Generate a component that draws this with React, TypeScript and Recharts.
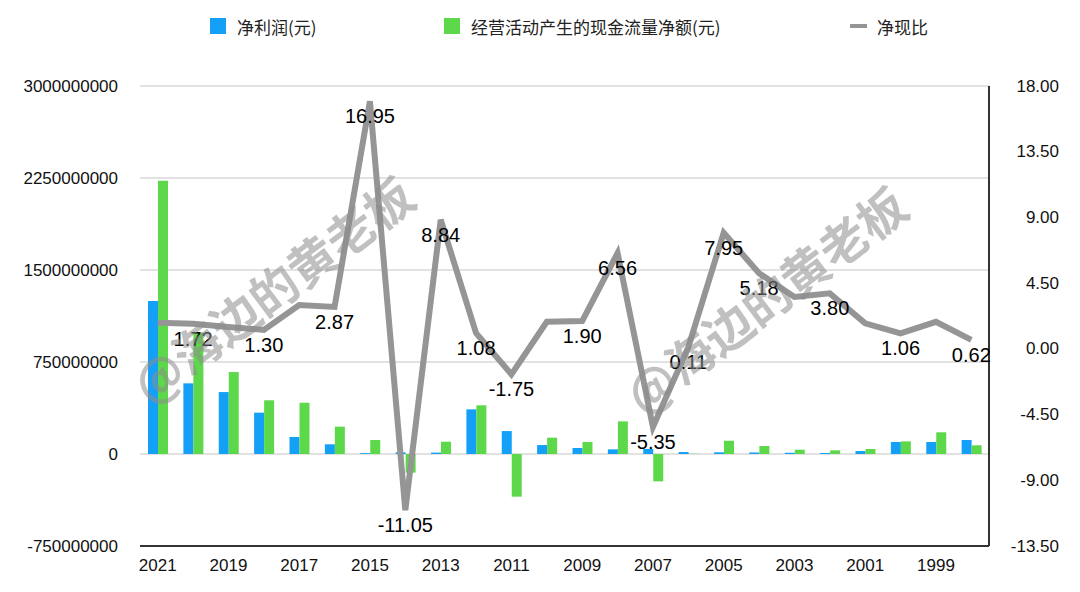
import {
  Bar,
  CartesianGrid,
  ComposedChart,
  LabelList,
  Line,
  XAxis,
  YAxis,
} from "recharts";

const years = [
  "2021", "2020", "2019", "2018", "2017", "2016", "2015", "2014", "2013", "2012", "2011", "2010",
  "2009", "2008", "2007", "2006", "2005", "2004", "2003", "2002", "2001", "2000", "1999", "1998",
];

// 净利润(元)
const netProfit = [
  1247e6, 576e6, 505e6, 337e6, 139e6, 79e6, 6.7e6, 13.8e6, 11.3e6, 364e6, 187e6, 73e6,
  49e6, 38e6, 41e6, 16e6, 13.6e6, 12.5e6, 10e6, 8e6, 24e6, 98e6, 98e6, 114e6,
];

// 经营活动产生的现金流量净额(元)
const operatingCash = [
  2227e6, 990e6, 668e6, 438e6, 418e6, 223e6, 114e6, -152e6, 100e6, 397e6, -348e6, 133e6,
  98e6, 266e6, -223e6, 1.8e6, 108e6, 65e6, 35e6, 30e6, 41e6, 103e6, 177e6, 71e6,
];

// 净现比
const cashRatio = [
  1.79, 1.72, 1.5, 1.3, 3.0, 2.87, 16.95, -11.05, 8.84, 1.08, -1.75, 1.85,
  1.9, 6.56, -5.35, 0.11, 7.95, 5.18, 3.55, 3.8, 1.75, 1.06, 1.85, 0.62,
];

// labels that are visible on the line (others hidden in the original)
const ratioLabels = [
  null, "1.72", null, "1.30", null, "2.87", "16.95", "-11.05", "8.84", "1.08", "-1.75", null,
  "1.90", "6.56", "-5.35", "0.11", "7.95", "5.18", null, "3.80", null, "1.06", null, "0.62",
];

const leftTicks = [-750000000, 0, 750000000, 1500000000, 2250000000, 3000000000];
const rightTicks = [-13.5, -9, -4.5, 0, 4.5, 9, 13.5, 18];

const data = years.map((year, i) => ({
  year,
  profit: netProfit[i],
  cash: operatingCash[i],
  ratio: cashRatio[i],
  label: ratioLabels[i],
}));

const BLUE = "#14a0f7";
const GREEN = "#5ed84b";
const GRAY = "#959595";
const NUM_FONT = "'Liberation Sans', Arial, Helvetica, sans-serif";
const CJK_FONT = "'Noto Sans CJK SC', 'Noto Sans', sans-serif";

const RightTick = (props: any) => {
  const { x, y, payload } = props;
  return (
    <text
      x={x + 70}
      y={y}
      textAnchor="end"
      dominantBaseline="central"
      fontSize={17}
      fontFamily={NUM_FONT}
      fill="#111"
    >
      {Number(payload.value).toFixed(2)}
    </text>
  );
};

const RatioLabel = (props: any) => {
  const { x, y, value } = props;
  if (value == null) return null;
  return (
    <text
      x={x}
      y={y + 15}
      textAnchor="middle"
      dominantBaseline="central"
      fontSize={20}
      fontFamily={NUM_FONT}
      fill="#000"
    >
      {value}
    </text>
  );
};

function LegendItem({ color, label, line, left }: { color: string; label: string; line?: boolean; left: number }) {
  return (
    <div style={{ position: "absolute", left, top: 16, display: "flex", alignItems: "center", height: 20 }}>
      {line ? (
        <span style={{ display: "inline-block", width: 17, height: 4, background: color, marginRight: 10 }} />
      ) : (
        <span style={{ display: "inline-block", width: 16, height: 16, background: color, marginRight: 11 }} />
      )}
      <span style={{ fontFamily: CJK_FONT, fontSize: 17, color: "#222", whiteSpace: "nowrap" }}>{label}</span>
    </div>
  );
}

function Watermark({ cx, cy }: { cx: number; cy: number }) {
  return (
    <div
      style={{
        position: "absolute",
        left: cx,
        top: cy,
        transform: "translate(-50%, -50%) rotate(-37deg)",
        fontFamily: CJK_FONT,
        fontSize: 48,
        fontWeight: 700,
        color: "rgba(140,140,140,0.55)",
        whiteSpace: "nowrap",
        pointerEvents: "none",
      }}
    >
      @海边的黄老板
    </div>
  );
}

export default function App() {
  return (
    <div style={{ position: "absolute", left: 0, top: 0, width: 1080, height: 592, background: "#fff", overflow: "hidden" }}>
      <LegendItem color={BLUE} label="净利润(元)" left={210} />
      <LegendItem color={GREEN} label="经营活动产生的现金流量净额(元)" left={444} />
      <LegendItem color={GRAY} label="净现比" line left={850} />
      <ComposedChart
        width={1080}
        height={592}
        data={data}
        margin={{ top: 86, right: 0, bottom: 0, left: 0 }}
        barGap={0}
      >
        <CartesianGrid yAxisId="left" vertical={false} stroke="#d8d8d8" strokeWidth={1.5} />
        <XAxis
          dataKey="year"
          interval={1}
          height={46}
          tickSize={0}
          tickMargin={13}
          axisLine={{ stroke: "#333", strokeWidth: 2 }}
          tickLine={false}
          tick={{ fontSize: 17, fill: "#111", fontFamily: NUM_FONT }}
        />
        <YAxis
          yAxisId="left"
          width={140}
          domain={[-750000000, 3000000000]}
          ticks={leftTicks}
          interval={0}
          allowDataOverflow
          axisLine={false}
          tickLine={false}
          tickSize={0}
          tickMargin={22}
          tick={{ fontSize: 17, fill: "#111", fontFamily: NUM_FONT }}
        />
        <YAxis
          yAxisId="right"
          orientation="right"
          width={91}
          domain={[-13.5, 18]}
          ticks={rightTicks}
          interval={0}
          allowDataOverflow
          axisLine={{ stroke: "#333", strokeWidth: 2 }}
          tickLine={false}
          tickSize={0}
          tickMargin={0}
          tick={<RightTick />}
        />
        <Bar yAxisId="left" dataKey="profit" fill={BLUE} barSize={10} isAnimationActive={false} />
        <Bar yAxisId="left" dataKey="cash" fill={GREEN} barSize={10} isAnimationActive={false} />
        <Line
          yAxisId="right"
          dataKey="ratio"
          type="linear"
          stroke={GRAY}
          strokeWidth={6}
          dot={false}
          activeDot={false}
          isAnimationActive={false}
        >
          <LabelList dataKey="label" content={<RatioLabel />} />
        </Line>
      </ComposedChart>
      <Watermark cx={272} cy={288} />
      <Watermark cx={765} cy={298} />
    </div>
  );
}
